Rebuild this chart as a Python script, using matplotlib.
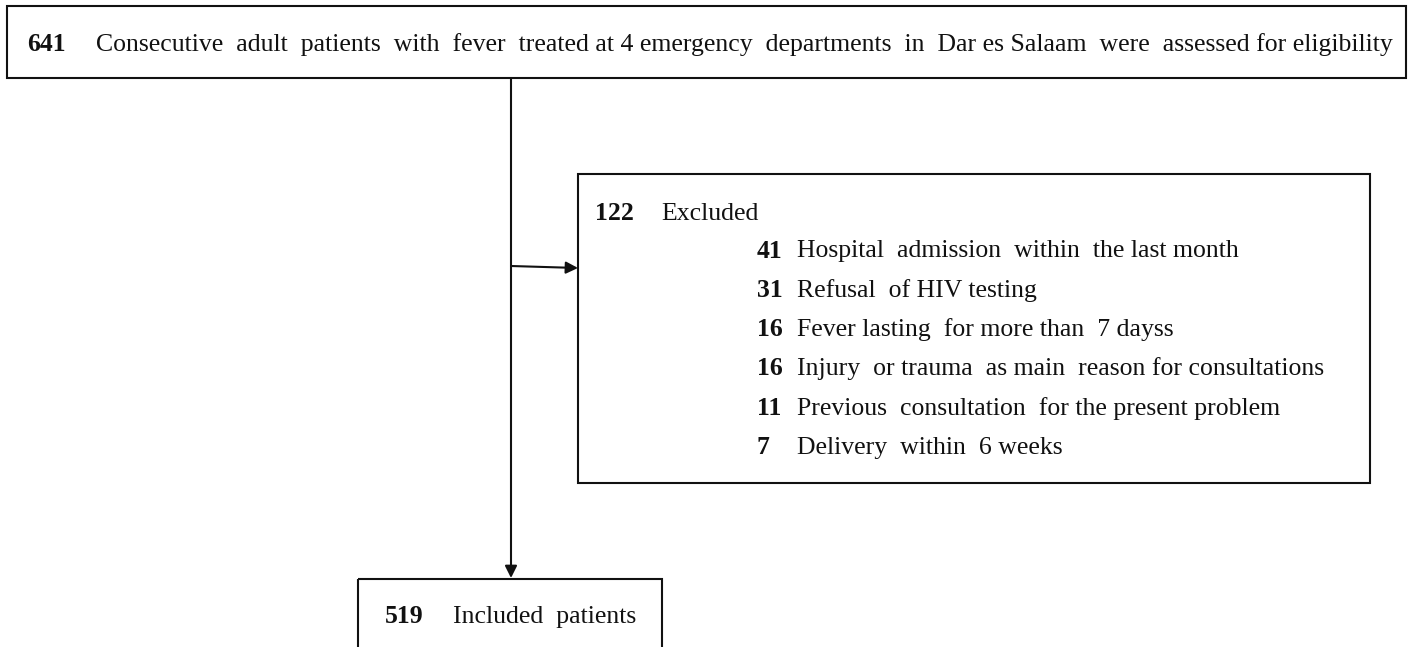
import matplotlib.pyplot as plt
from matplotlib.patches import Rectangle

# flow counts and labels
n_assessed = 641
assessed_text = 'Consecutive  adult  patients  with  fever  treated at 4 emergency  departments  in  Dar es Salaam  were  assessed for eligibility'
n_excluded = 122
excluded_text = 'Excluded'
excl_counts = [41, 31, 16, 16, 11, 7]
excl_reasons = ['Hospital  admission  within  the last month',
                'Refusal  of HIV testing',
                'Fever lasting  for more than  7 dayss',
                'Injury  or trauma  as main  reason for consultations',
                'Previous  consultation  for the present problem',
                'Delivery  within  6 weeks']
n_included = 519
included_text = 'Included  patients'

plt.rcParams['font.family'] = ['Liberation Serif', 'DejaVu Serif']
fs = 18.5
lw = 1.5
col = '#111111'

fig = plt.figure(figsize=(14.11, 6.47), dpi=100)
ax = fig.add_axes([0, 0, 1, 1])
ax.set_xlim(0, 1411)
ax.set_ylim(647, 0)
ax.axis('off')

def box(x0, y0, x1, y1):
    ax.add_patch(Rectangle((x0, y0), x1 - x0, y1 - y0, fill=False,
                           ec=col, lw=lw))

def line(x, y, num, txt, x_txt):
    ax.text(x, y, str(num), fontsize=fs, fontweight='bold', va='baseline', color=col)
    ax.text(x_txt, y, txt, fontsize=fs, va='baseline', color=col)

# top box
box(7, 6, 1406, 78)
line(27, 51, n_assessed, assessed_text, 96)

# excluded box
box(578, 174, 1370, 483)
line(595, 220, n_excluded, excluded_text, 661)
for i, (c, r) in enumerate(zip(excl_counts, excl_reasons)):
    line(757, 257.5 + i * 39.3, c, r, 797)

# included box (cut off at bottom)
box(358, 579, 662, 660)
line(385, 623, n_included, included_text, 453)

# arrows
ax.annotate('', xy=(511, 578), xytext=(511, 78),
            arrowprops=dict(arrowstyle='-|>', color=col, lw=lw, mutation_scale=18,
                            shrinkA=0, shrinkB=0))
ax.annotate('', xy=(578, 268), xytext=(511, 266),
            arrowprops=dict(arrowstyle='-|>', color=col, lw=lw, mutation_scale=18,
                            shrinkA=0, shrinkB=0))

fig.savefig('out.png', dpi=100)
